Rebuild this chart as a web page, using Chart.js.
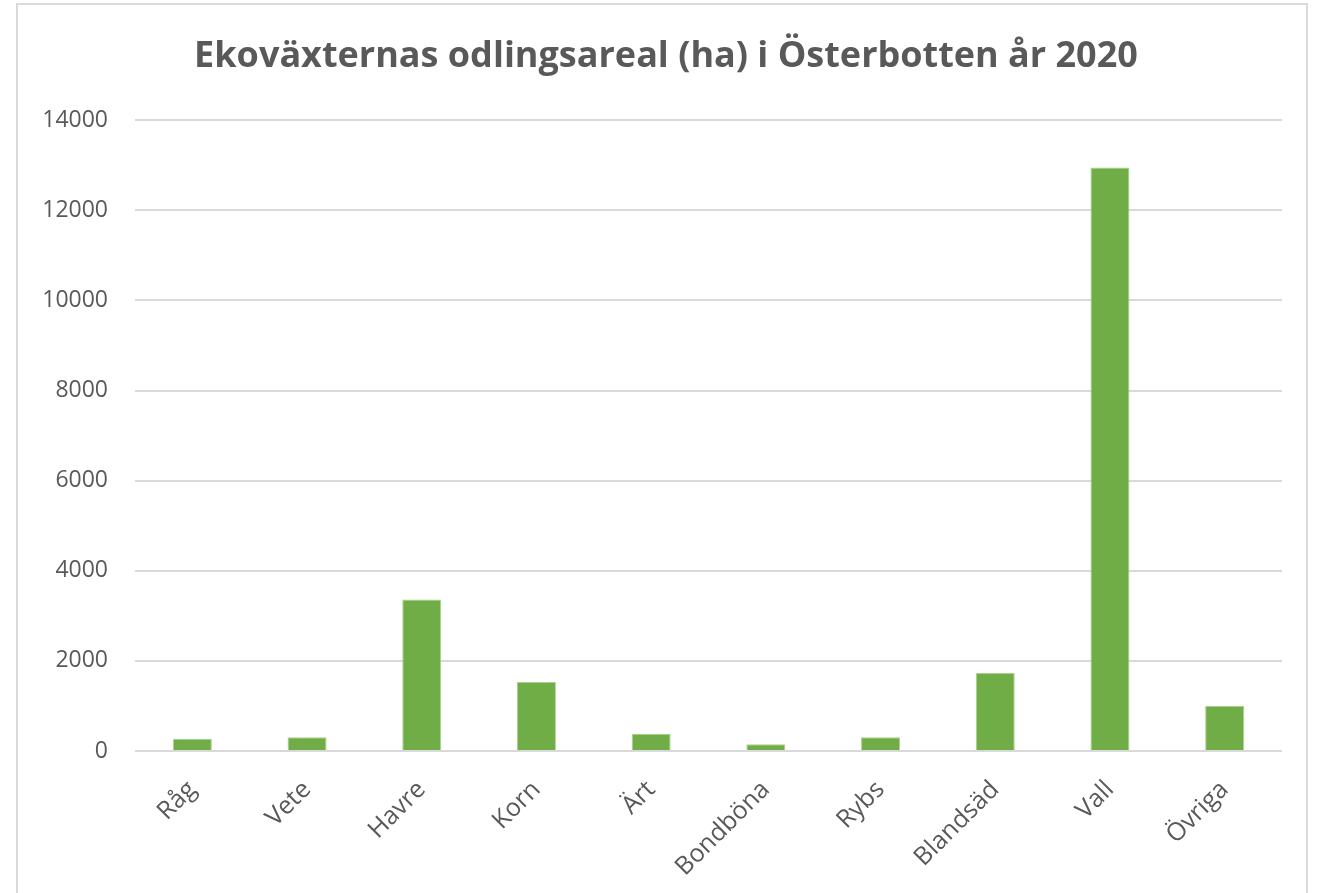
<!DOCTYPE html>
<html>
<head>
<meta charset="utf-8">
<script src="https://cdn.jsdelivr.net/npm/chart.js@4"></script>
<style>
    html, body {
        margin: 0;
        padding: 0;
        background: #ffffff;
        overflow: hidden;
    }
    #frame {
        position: absolute;
        left: 16px;
        top: 3px;
        width: 1292px;
        height: 900px;
        border: 2px solid #d9d9d9;
        box-sizing: border-box;
    }
    #wrap {
        position: absolute;
        left: 0;
        top: 0;
        width: 1325px;
        height: 918px;
    }
</style>
</head>
<body>
<div id="frame"></div>
<div id="wrap"><canvas id="cropChart"></canvas></div>
<script>
// Data
const crops = ['Råg', 'Vete', 'Havre', 'Korn', 'Ärt', 'Bondböna', 'Rybs', 'Blandsäd', 'Vall', 'Övriga'];
const areaHa = [272, 303, 3360, 1530, 377, 148, 303, 1728, 12950, 1004];
const yTicks = [0, 2000, 4000, 6000, 8000, 10000, 12000, 14000];

const textColor = '#595959';
const gridColor = '#d9d9d9';

new Chart(document.getElementById('cropChart'), {
    type: 'bar',
    data: {
        labels: crops,
        datasets: [{
            label: 'Areal (ha)',
            data: areaHa,
            backgroundColor: '#70ad47',
            borderColor: '#a9d18e',
            borderWidth: 1,
            barPercentage: 0.34,
            categoryPercentage: 1
        }]
    },
    options: {
        responsive: true,
        maintainAspectRatio: false,
        animation: false,
        layout: {
            padding: { left: 20, right: 13, top: 24, bottom: 20 }
        },
        plugins: {
            legend: { display: false },
            tooltip: { enabled: false },
            title: {
                display: true,
                text: 'Ekoväxternas odlingsareal (ha) i Österbotten år 2020',
                color: textColor,
                font: { family: 'Open Sans', size: 36, weight: 'bold' },
                padding: { top: 11, bottom: 42 }
            }
        },
        scales: {
            x: {
                grid: { display: false },
                border: { display: false },
                ticks: {
                    color: textColor,
                    font: { family: 'Open Sans', size: 25 },
                    minRotation: 45,
                    maxRotation: 45,
                    padding: 16
                }
            },
            y: {
                min: 0,
                max: 14000,
                afterBuildTicks: function (axis) {
                    axis.ticks = yTicks.map(v => ({ value: v }));
                },
                afterFit: function (axis) {
                    axis.width = 115;
                },
                grid: {
                    color: gridColor,
                    lineWidth: 2,
                    drawTicks: false
                },
                border: { display: false },
                ticks: {
                    color: textColor,
                    font: { family: 'Open Sans', size: 23 },
                    padding: 27,
                    callback: function (value) {
                        return String(value);
                    }
                }
            },
            // empty right margin so the title centres like the original
            spacer: {
                type: 'linear',
                position: 'right',
                afterFit: function (axis) {
                    axis.width = 30;
                },
                grid: { display: false },
                border: { display: false },
                ticks: { display: false }
            }
        }
    }
});
</script>
</body>
</html>
